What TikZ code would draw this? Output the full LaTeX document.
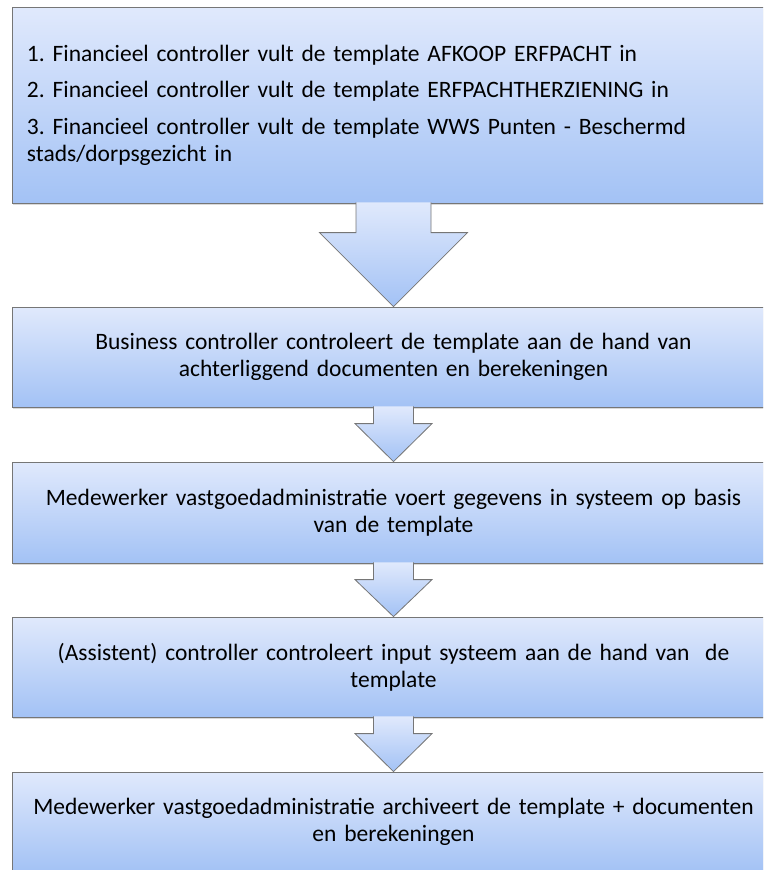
\documentclass[tikz,border=0pt]{standalone}
\usepackage{fontspec}
\setmainfont{Carlito}
\frenchspacing
\usetikzlibrary{calc, shadows}
\definecolor{steptop}{RGB}{224,233,252}
\definecolor{stepbottom}{RGB}{163,194,245}
\definecolor{stepline}{RGB}{118,118,118}

\begin{document}
\begin{tikzpicture}[x=1pt, y=-1pt,
    stepbox/.style={rectangle, draw=stepline, line width=0.8pt,
      top color=steptop, bottom color=stepbottom,
      drop shadow={shadow xshift=1.2pt, shadow yshift=-1.5pt, opacity=0.3},
      minimum width=763pt, text width=749pt, align=center,
      font=\fontsize{23.5}{27}\selectfont},
    flowarrow/.style={draw=stepline, line width=0.8pt, line join=miter,
      top color=steptop, bottom color=stepbottom}]
  \path[use as bounding box, clip] (0,0) rectangle (763,870);

  \node[stepbox, minimum height=196pt, text width=733pt, align=left] (b1) at (393.5,105)
    {1. Financieel controller vult de template AFKOOP ERFPACHT in\\[9.5pt]
     2. Financieel controller vult de template ERFPACHTHERZIENING in\\[9.5pt]
     3. Financieel controller vult de template WWS Punten - Beschermd\\
     stads/dorpsgezicht in};
  \node[stepbox, minimum height=100pt] (b2) at (393.5,357)
    {Business controller controleert de template aan de hand van\\
     achterliggend documenten en berekeningen};
  \node[stepbox, minimum height=101pt] (b3) at (393.5,512.5)
    {Medewerker vastgoedadministratie voert gegevens in systeem op basis\\
     van de template};
  \node[stepbox, minimum height=100pt] (b4) at (393.5,667)
    {(Assistent) controller controleert input systeem aan de hand van~ de\\
     template};
  \node[stepbox, minimum height=100pt] (b5) at (393.5,822)
    {Medewerker vastgoedadministratie archiveert de template + documenten\\
     en berekeningen};

  % block arrows: from / to / shaft half width / head half width / head length
  \foreach \a/\b/\sh/\hh/\hl in {b1/b2/37.5/74/74, b2/b3/20/38.5/38,
                                 b3/b4/20/38.5/37, b4/b5/20/38.5/38}{
    \path[flowarrow] ($(\a.south)+(-\sh,-1)$) -- ($(\b.north)+(-\sh,-\hl)$)
      -- ($(\b.north)+(-\hh,-\hl)$) -- (\b.north)
      -- ($(\b.north)+(\hh,-\hl)$) -- ($(\b.north)+(\sh,-\hl)$)
      -- ($(\a.south)+(\sh,-1)$);
  };
\end{tikzpicture}
\end{document}
